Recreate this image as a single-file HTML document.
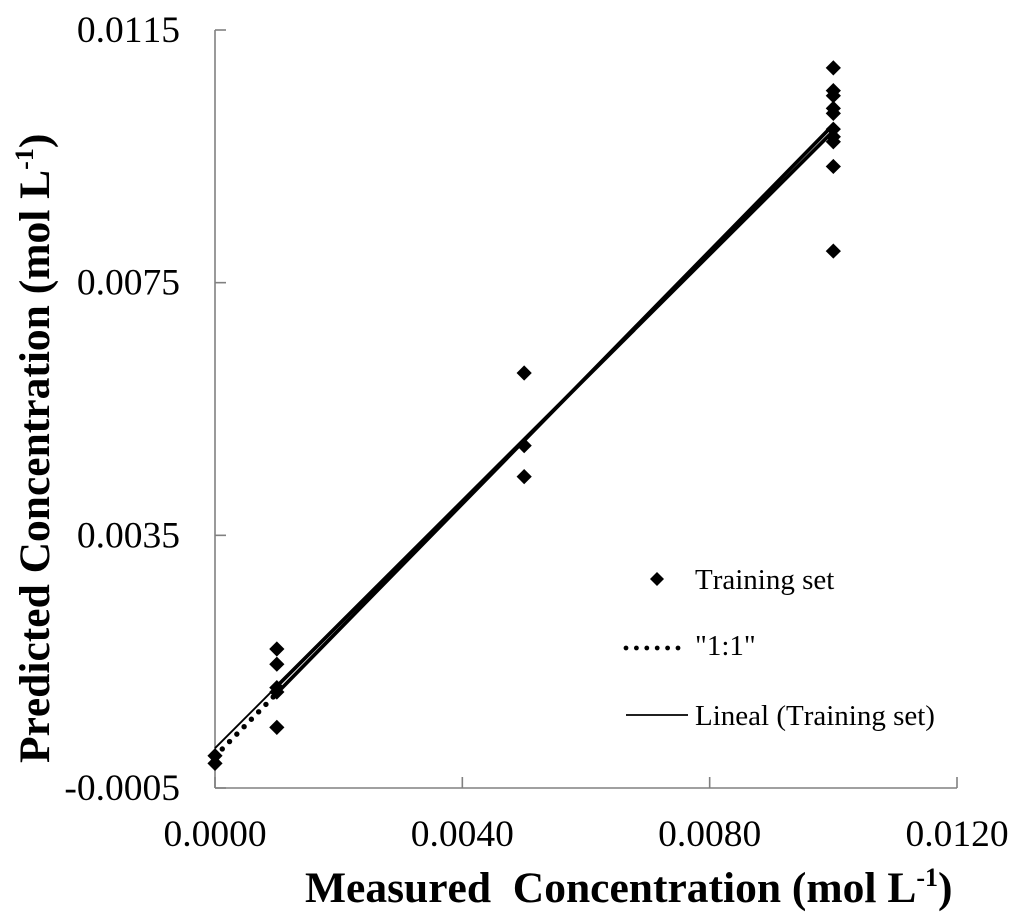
<!DOCTYPE html>
<html lang="en">
<head>
<meta charset="utf-8">
<title>Predicted vs Measured Concentration</title>
<style>
html,body{margin:0;padding:0;background:#fff;width:1024px;height:922px;overflow:hidden}
svg{display:block}
text{font-family:"Liberation Serif",serif;fill:#000;font-kerning:none}
.tick{font-size:37.5px}
.title{font-size:43.5px;font-weight:bold}
.legend{font-size:29px}
</style>
</head>
<body>
<svg id="chart" width="1024" height="922" viewBox="0 0 1024 922" xmlns="http://www.w3.org/2000/svg">
  <defs><filter id="soft" x="0" y="0" width="100%" height="100%"><feGaussianBlur stdDeviation="0.35"></feGaussianBlur></filter></defs>
  <g filter="url(#soft)">
  <g id="axes"></g>
  <g id="lines"></g>
  <g id="points"></g>
  <text class="title" x="305" y="902" xml:space="preserve">Measured  Concentration (mol L<tspan font-size="26" dy="-16">-1</tspan><tspan dy="16">)</tspan></text>
  <text class="title" transform="translate(49,763) rotate(-90)" x="0" y="0">Predicted Concentration (mol L<tspan font-size="26" dy="-16">-1</tspan><tspan dy="16">)</tspan></text>
  <g id="legend">
    <g>
      <polygon points="657,572 664,579 657,586 650,579" fill="#000"></polygon>
      <text class="legend" x="695" y="589">Training set</text>
    </g>
    <g>
      <line x1="626" y1="648" x2="678" y2="648" stroke="#000" stroke-width="4.8" stroke-linecap="round" stroke-dasharray="0 10.4"></line>
      <text class="legend" x="695" y="655">"1:1"</text>
    </g>
    <g>
      <line x1="626" y1="715" x2="688" y2="715" stroke="#000" stroke-width="1.8"></line>
      <text class="legend" x="695" y="725">Lineal (Training set)</text>
    </g>
  </g>
  </g>
</svg>
<script>
const xTicks = ["0.0000", "0.0040", "0.0080", "0.0120"];
const yTicks = ["0.0115", "0.0075", "0.0035", "-0.0005"];
const measured = [
  0, 0,
  0.001, 0.001, 0.001, 0.001, 0.001,
  0.005, 0.005, 0.005,
  0.01, 0.01, 0.01, 0.01, 0.01, 0.01, 0.01, 0.01, 0.01, 0.01
];
const predicted = [
  0.00001, -0.00011,
  0.00170, 0.00146, 0.00109, 0.00102, 0.00046,
  0.00607, 0.00492, 0.00443,
  0.01090, 0.01054, 0.01046, 0.01026, 0.01018, 0.00993, 0.00981, 0.00973, 0.00934, 0.00800
];
const lineX = [0, 0.001, 0.01];
const identityY = [0, 0.001, 0.01];
const fitY = [0.00013, 0.00111, 0.0099];

const xMin = 0, xMax = 0.012, yMin = -0.0005, yMax = 0.0115;
const sx = v => 215 + (v - xMin) / (xMax - xMin) * (957 - 215);
const sy = v => 788 - (v - yMin) / (yMax - yMin) * (788 - 30);
const NS = "http://www.w3.org/2000/svg";
const axes = document.getElementById("axes");
const linesG = document.getElementById("lines");
const pointsG = document.getElementById("points");
function make(tag, attrs, parent) {
  const el = document.createElementNS(NS, tag);
  for (const k in attrs) el.setAttribute(k, attrs[k]);
  parent.appendChild(el);
  return el;
}
const axisStyle = {stroke: "#808080", "stroke-width": 1.6};

const xAxisLine = make("line", Object.assign({x1: sx(xMin), y1: sy(yMin), x2: sx(xMax), y2: sy(yMin)}, axisStyle), axes);


const yAxisLine = make("line", Object.assign({x1: sx(xMin), y1: sy(yMin), x2: sx(xMin), y2: sy(yMax)}, axisStyle), axes);



xTicks.forEach(function (label) {
  const v = parseFloat(label);
  const t = make("line", Object.assign({x1: sx(v), y1: sy(yMin), x2: sx(v), y2: sy(yMin) - 11}, axisStyle), axes);
  
  
  const txt = make("text", {class: "tick", x: sx(v), y: 846, "text-anchor": "middle"}, axes);
  txt.textContent = label;
  
  
});
yTicks.forEach(function (label) {
  const v = parseFloat(label);
  const t = make("line", Object.assign({x1: sx(xMin), y1: sy(v), x2: sx(xMin) + 11, y2: sy(v)}, axisStyle), axes);
  
  
  const txt = make("text", {class: "tick", x: 180, y: sy(v) + 12, "text-anchor": "end"}, axes);
  txt.textContent = label;
  
  
});

const identityDotted = make("line", {x1: sx(lineX[0]), y1: sy(identityY[0]), x2: sx(lineX[1]), y2: sy(identityY[1]), stroke: "#000", "stroke-width": 5.4, "stroke-linecap": "round", "stroke-dasharray": "0 10.4"}, linesG);


const identitySolid = make("line", {x1: sx(lineX[1]), y1: sy(identityY[1]), x2: sx(lineX[2]), y2: sy(identityY[2]), stroke: "#000", "stroke-width": 3.7}, linesG);


const fitThin = make("line", {x1: sx(lineX[0]), y1: sy(fitY[0]), x2: sx(lineX[1]), y2: sy(fitY[1]), stroke: "#000", "stroke-width": 1.9}, linesG);


const fitThick = make("line", {x1: sx(lineX[1]), y1: sy(fitY[1]), x2: sx(lineX[2]), y2: sy(fitY[2]), stroke: "#000", "stroke-width": 3.7}, linesG);



measured.forEach(function (m, i) {
  const cx = sx(m), cy = sy(predicted[i]), r = 7.6;
  const p = make("polygon", {points: [cx, cy - r, cx + r, cy, cx, cy + r, cx - r, cy].join(" "), fill: "#000"}, pointsG);
  
  
});
</script>
</body>
</html>
